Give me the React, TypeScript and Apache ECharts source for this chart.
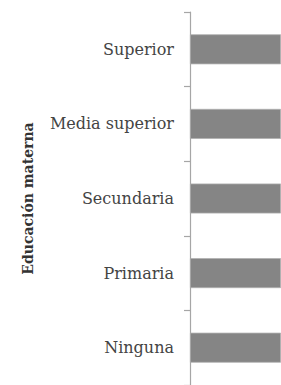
import React, { useEffect, useRef } from "react";
import * as echarts from "echarts";

const categories = ["Ninguna", "Primaria", "Secundaria", "Media superior", "Superior"];
const values = [100, 100, 100, 100, 100];
const axisName = "Educación materna";

export default function App() {
  const ref = useRef<HTMLDivElement>(null);
  useEffect(() => {
    if (!ref.current) return;
    const chart = echarts.init(ref.current, null, { renderer: "svg" });
    chart.setOption({
      animation: false,
      backgroundColor: "#ffffff",
      grid: { left: 190, top: 12, right: 0, bottom: -6, containLabel: false },
      xAxis: {
        type: "value",
        min: 0,
        max: 100,
        show: false,
        splitLine: { show: false },
      },
      yAxis: {
        type: "category",
        data: categories,
        name: axisName,
        nameLocation: "middle",
        nameGap: 155,
        nameTextStyle: {
          fontFamily: "DejaVu Serif",
          fontWeight: "bold",
          fontSize: 14,
          color: "#333333",
        },
        axisLine: { show: true, lineStyle: { color: "#a6a6a6", width: 1.2 } },
        axisTick: { show: true, length: 6, lineStyle: { color: "#a6a6a6", width: 1.2 } },
        axisLabel: {
          margin: 16,
          fontFamily: "DejaVu Serif",
          fontSize: 16,
          color: "#444444",
        },
      },
      series: [
        {
          type: "bar",
          data: values,
          barWidth: 30,
          itemStyle: { color: "#858585", borderColor: "#b0b0b0", borderWidth: 0.8 },
        },
      ],
    });
    return () => chart.dispose();
  }, []);
  return (
    <div
      ref={ref}
      style={{ position: "fixed", left: 0, top: 0, width: 281, height: 385, background: "#fff" }}
    />
  );
}
